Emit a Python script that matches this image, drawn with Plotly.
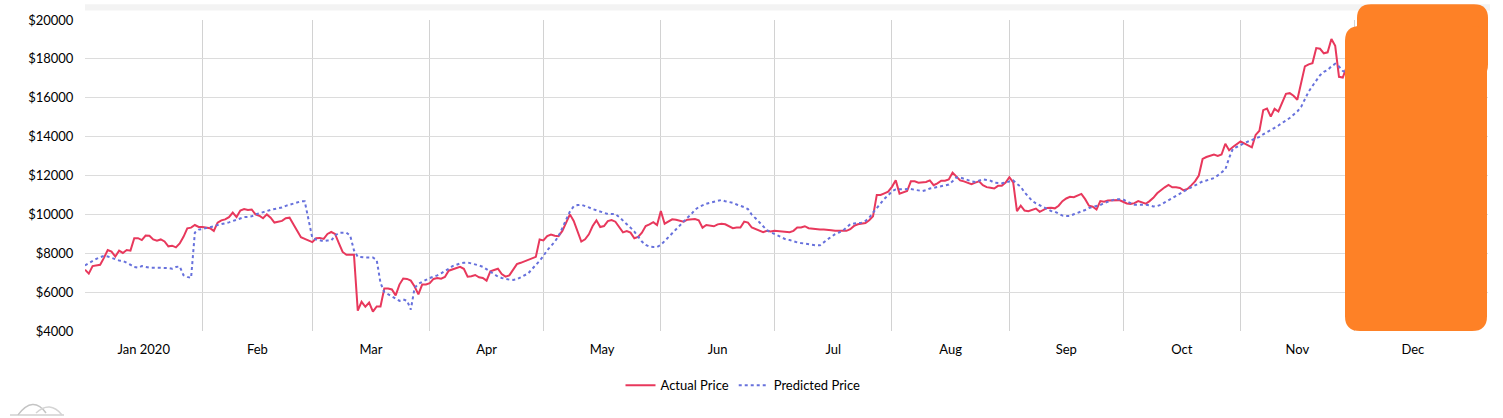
import pandas as pd
import plotly.graph_objects as go

# ---------------- data ----------------
start_date = "2020-01-01"

actual_price = [
    7155, 6952, 7341, 7375, 7409, 7763, 8169, 8085, 7831, 8135,
    8017, 8169, 8135, 8777, 8777, 8676, 8913, 8896, 8710, 8642,
    8710, 8608, 8355, 8389, 8304, 8507, 8845, 9284, 9318, 9453,
    9352, 9352, 9335, 9284, 9149, 9572, 9690, 9741, 9859, 10096,
    9859, 10197, 10270, 10231, 10252, 10000, 9933, 9798, 10000, 9832,
    9580, 9630, 9664, 9798, 9832, 9496, 9160, 8824, 8740, 8656,
    8572, 8774, 8790, 8740, 8992, 9093, 8992, 8522, 8068, 7917,
    7917, 7917, 5044, 5500, 5246, 5466, 4995, 5262, 5262, 6186,
    6186, 6136, 5834, 6388, 6700, 6680, 6593, 6288, 5881, 6390,
    6390, 6458, 6678, 6729, 6695, 6780, 7102, 7169, 7237, 7305,
    7203, 6797, 6814, 6881, 6763, 6729, 6593, 7068, 7136, 7203,
    6932, 6797, 6864, 7169, 7441, 7508, 7576, 7678, 7746, 7814,
    8712, 8661, 8881, 8966, 8898, 8881, 9150, 9600, 10000, 9658,
    9100, 8600, 8718, 8975, 9402, 9692, 9351, 9402, 9658, 9710,
    9624, 9316, 9077, 9146, 9060, 8769, 8838, 9060, 9402, 9487,
    9600, 9450, 10170, 9521, 9624, 9744, 9727, 9658, 9624, 9727,
    9744, 9761, 9692, 9316, 9453, 9436, 9385, 9487, 9521, 9491,
    9390, 9288, 9322, 9322, 9627, 9576, 9322, 9237, 9153, 9085,
    9153, 9119, 9153, 9136, 9085, 9085, 9085, 9153, 9322, 9322,
    9390, 9288, 9254, 9237, 9220, 9220, 9220, 9186, 9153, 9153,
    9153, 9153, 9237, 9407, 9491, 9542, 9559, 9700, 9900, 11000,
    11000, 11083, 11167, 11417, 11750, 11067, 11133, 11200, 11700, 11700,
    11633, 11667, 11667, 11750, 11500, 11600, 11733, 11733, 11800, 12150,
    11950, 11750, 11700, 11633, 11550, 11633, 11700, 11500, 11400, 11367,
    11333, 11467, 11467, 11633, 11917, 11650, 10170, 10450, 10200, 10167,
    10250, 10300, 10133, 10240, 10330, 10344, 10310, 10445, 10682, 10817,
    10902, 10885, 10952, 11053, 10783, 10445, 10394, 10250, 10682, 10648,
    10716, 10733, 10733, 10733, 10648, 10564, 10530, 10580, 10682, 10614,
    10547, 10682, 10851, 11087, 11256, 11392, 11510, 11392, 11392, 11358,
    11239, 11307, 11493, 11696, 12000, 12850, 12950, 13000, 13078, 13010,
    13078, 13632, 13296, 13464, 13615, 13750, 13649, 13548, 13447, 14086,
    14304, 15362, 15446, 15026, 15429, 15295, 15766, 16202, 16236, 16102,
    15900, 16740, 17614, 17714, 17782, 18554, 18521, 18286, 18336, 19025,
    18672, 17076, 17042, 17580,
]

predicted_price = [
    7375, 7493, 7594, 7713, 7797, 7865, 7831, 7763, 7662, 7628,
    7611, 7527, 7409, 7290, 7256, 7341, 7290, 7256, 7256, 7256,
    7256, 7256, 7240, 7206, 7290, 7324, 6868, 6783, 6732, 9065,
    9217, 9250, 9284, 9318, 9386, 9453, 9487, 9521, 9589, 9656,
    9724, 9791, 9862, 9870, 9899, 10000, 10050, 10084, 10168, 10235,
    10269, 10302, 10353, 10437, 10504, 10571, 10638, 10672, 10672, 9664,
    8790, 8706, 8656, 8622, 8656, 8656, 8908, 9042, 9059, 9059,
    8908, 8152, 7816, 7782, 7782, 7782, 7782, 7648, 6472, 6002,
    5884, 5766, 5665, 5548, 5620, 5560, 5100, 6220, 6424, 6542,
    6627, 6729, 6780, 6864, 6966, 7068, 7203, 7339, 7424, 7475,
    7508, 7525, 7475, 7441, 7373, 7305, 7169, 7068, 6915, 6797,
    6729, 6678, 6644, 6627, 6661, 6763, 6864, 6966, 7186, 7373,
    7610, 7864, 8153, 8373, 8593, 8881, 9300, 9800, 10150, 10410,
    10478, 10496, 10444, 10359, 10273, 10205, 10137, 10068, 10017, 10017,
    10017, 9863, 9692, 9521, 9316, 9111, 8838, 8599, 8428, 8342,
    8325, 8325, 8428, 8633, 8838, 9043, 9231, 9453, 9658, 9829,
    10000, 10239, 10376, 10478, 10547, 10598, 10650, 10700, 10740, 10678,
    10644, 10593, 10508, 10458, 10373, 10271, 9983, 9797, 9576, 9373,
    9186, 9085, 8983, 8881, 8780, 8712, 8678, 8610, 8559, 8525,
    8491, 8441, 8424, 8407, 8407, 8576, 8712, 8847, 8983, 9068,
    9153, 9322, 9491, 9525, 9542, 9576, 9661, 9831, 10085, 10339,
    10590, 10800, 10980, 11183, 11283, 11300, 11300, 11300, 11300, 11267,
    11233, 11200, 11250, 11333, 11367, 11417, 11467, 11500, 11533, 11700,
    11900, 11900, 11833, 11750, 11700, 11667, 11750, 11800, 11767, 11733,
    11633, 11600, 11600, 11633, 11700, 11750, 11567, 11417, 11133, 10917,
    10700, 10567, 10467, 10400, 10280, 10175, 10141, 10023, 9938, 9921,
    9921, 10006, 10073, 10141, 10226, 10327, 10378, 10394, 10479, 10580,
    10648, 10716, 10783, 10783, 10766, 10665, 10580, 10496, 10496, 10513,
    10496, 10462, 10411, 10428, 10496, 10614, 10733, 10834, 10952, 11070,
    11189, 11290, 11392, 11493, 11594, 11696, 11747, 11797, 11868, 12005,
    12140, 12310, 12900, 13380, 13464, 13582, 13666, 13750, 13834, 13884,
    13985, 14120, 14220, 14321, 14455, 14573, 14690, 14842, 14959, 15127,
    15295, 15530, 15934, 16320, 16606, 16908, 17160, 17328, 17429, 17614,
    17748, 17614, 17378, 17300,
]

month_labels = ["Jan 2020", "Feb", "Mar", "Apr", "May", "Jun",
                "Jul", "Aug", "Sep", "Oct", "Nov", "Dec"]

y_ticks = [4000, 6000, 8000, 10000, 12000, 14000, 16000, 18000, 20000]
y_tick_labels = ["$" + str(v) for v in y_ticks]

# ---------------- derived ----------------
dates_actual = pd.date_range(start_date, periods=len(actual_price), freq="D")
dates_pred = pd.date_range(start_date, periods=len(predicted_price), freq="D")

month_starts = pd.date_range(start_date, periods=len(month_labels) + 1, freq="MS")
month_mids = [month_starts[i] + (month_starts[i + 1] - month_starts[i]) / 2
              for i in range(len(month_labels))]

FONT = "Lato, 'Open Sans', sans-serif"
RED = "#e8385c"
BLUE = "#6771dc"

fig = go.Figure()
fig.add_trace(go.Scatter(
    x=dates_actual, y=actual_price, mode="lines", name="Actual Price",
    line=dict(color=RED, width=2),
))
fig.add_trace(go.Scatter(
    x=dates_pred, y=predicted_price, mode="lines", name="Predicted Price",
    line=dict(color=BLUE, width=2, dash="3px,3px"),
))

# pixel -> paper helpers for decorative shapes
W, H = 1503, 418
ML, MR, MT, MB = 85, 15, 16, 87
PW, PH = W - ML - MR, H - MT - MB


def px(x):
    return (x - ML) / PW


def py(y):
    return (H - MB - y) / PH


def rounded_rect(x0, y0, x1, y1, r):
    pts = [
        ("M", [(x0 + r, y0)]),
        ("L", [(x1 - r, y0)]),
        ("Q", [(x1, y0), (x1, y0 + r)]),
        ("L", [(x1, y1 - r)]),
        ("Q", [(x1, y1), (x1 - r, y1)]),
        ("L", [(x0 + r, y1)]),
        ("Q", [(x0, y1), (x0, y1 - r)]),
        ("L", [(x0, y0 + r)]),
        ("Q", [(x0, y0), (x0 + r, y0)]),
    ]
    s = ""
    for cmd, ps in pts:
        s += cmd + " " + " ".join(f"{px(a):.5f},{py(b):.5f}" for a, b in ps) + " "
    return s + "Z"


def poly(points):
    return "M " + " L ".join(f"{px(a):.5f},{py(b):.5f}" for a, b in points)


def curve(p0, c, p1):
    return (f"M {px(p0[0]):.5f},{py(p0[1]):.5f} "
            f"Q {px(c[0]):.5f},{py(c[1]):.5f} {px(p1[0]):.5f},{py(p1[1]):.5f}")


ORANGE = "#fe8126"
shapes = [
    # scrollbar strip at top
    dict(type="rect", xref="paper", yref="paper", x0=0, x1=px(1490),
         y0=py(6.5), y1=py(0), fillcolor="#f3f3f3", line=dict(width=0),
         layer="below"),
    # orange overlay
    dict(type="path", xref="paper", yref="paper",
         path=rounded_rect(1357, 0, 1488, 75, 14),
         fillcolor=ORANGE, line=dict(width=0)),
    dict(type="path", xref="paper", yref="paper",
         path=rounded_rect(1345, 22, 1487, 331, 15),
         fillcolor=ORANGE, line=dict(width=0)),
    # small logo bottom-left
    dict(type="path", xref="paper", yref="paper", path=poly([(10, 416), (64, 416)]),
         line=dict(color="#d0d0d0", width=1.5)),
    dict(type="path", xref="paper", yref="paper", path=curve((18, 416), (33, 396), (46, 414)),
         line=dict(color="#c4c4c4", width=1.5)),
    dict(type="path", xref="paper", yref="paper", path=curve((36, 414), (50, 401), (62, 416)),
         line=dict(color="#d4d4d4", width=1.5)),
]

fig.update_layout(
    width=W, height=H, autosize=False,
    margin=dict(l=ML, r=MR, t=MT, b=MB, pad=0),
    paper_bgcolor="white", plot_bgcolor="white",
    font=dict(family=FONT, size=13, color="#000"),
    showlegend=True,
    legend=dict(orientation="h", x=(743 - ML) / PW, xanchor="center",
                y=py(386), yanchor="middle", font=dict(family=FONT, size=13, color="#000"),
                itemwidth=30, bgcolor="rgba(0,0,0,0)"),
    shapes=shapes,
    hovermode=False,
)

fig.update_xaxes(
    type="date",
    range=[start_date, "2021-01-05 08:00"],
    tickvals=month_mids, ticktext=month_labels,
    showgrid=False, zeroline=False, showline=False,
    ticks="outside", ticklen=6, tickcolor="rgba(0,0,0,0)",
    tickfont=dict(family=FONT, size=13, color="#000"),
    minor=dict(tick0=start_date, dtick="M1", showgrid=True,
               gridcolor="#d2d2d2", gridwidth=1, ticks=""),
)
fig.update_yaxes(
    range=[4000, 20000], tickvals=y_ticks, ticktext=y_tick_labels,
    showgrid=True, gridcolor="#dcdcdc", gridwidth=1,
    zeroline=False, showline=False,
    ticks="outside", ticklen=8, tickcolor="rgba(0,0,0,0)",
    tickfont=dict(family=FONT, size=13, color="#000"),
)

fig.write_html(
    "out.html",
    config={"displayModeBar": False},
    post_script="document.body.style.margin='0';document.body.style.overflow='hidden';",
)
